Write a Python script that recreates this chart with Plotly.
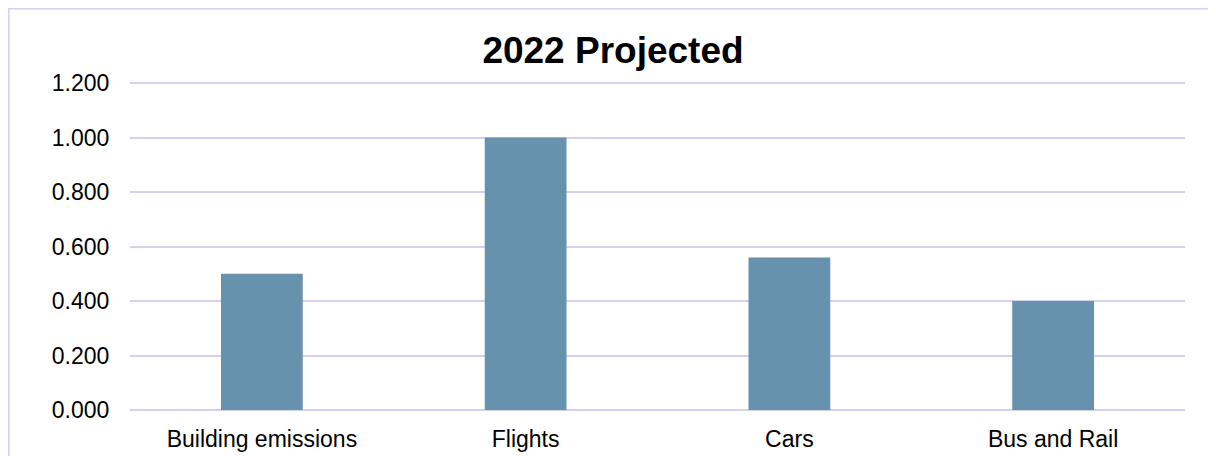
import plotly.graph_objects as go

categories = ["Building emissions", "Flights", "Cars", "Bus and Rail"]
values = [0.50, 1.00, 0.56, 0.40]
tick_vals = [0.0, 0.2, 0.4, 0.6, 0.8, 1.0, 1.2]
tick_text = ["0.000", "0.200", "0.400", "0.600", "0.800", "1.000", "1.200"]

# page has an 8px body margin, so the figure is 8px smaller than the window
W, H = 1208, 448
ml, mr, mt, mb = 122, 31, 74, 46
pw, ph = W - ml - mr, H - mt - mb

grid_col = "#D2D2F0"

fig = go.Figure(go.Bar(
    x=categories, y=values,
    marker=dict(color="#6692AD", line=dict(width=0)),
    hoverinfo="x+y",
))

bx0 = (0.75 - ml) / pw
by1 = 1 + (mt - 0.75) / ph

fig.update_layout(
    width=W, height=H,
    margin=dict(l=ml, r=mr, t=mt, b=mb, pad=0, autoexpand=False),
    paper_bgcolor="white", plot_bgcolor="white",
    bargap=0.69,
    showlegend=False,
    title=dict(text="<b>2022 Projected</b>", x=605 / W, xanchor="center",
               y=1 - 42 / H, yanchor="middle",
               font=dict(family="Liberation Sans, Arial", size=37, color="#000000")),
    font=dict(family="Liberation Sans, Arial", size=23, color="#000000"),
    xaxis=dict(showgrid=False, showline=False, zeroline=False, ticks="outside",
               ticklen=8, tickcolor="rgba(0,0,0,0)", automargin=False,
               tickfont=dict(size=23, color="#000000")),
    yaxis=dict(range=[0, 1.204], tickvals=tick_vals, ticktext=tick_text,
               showgrid=True, gridcolor=grid_col, gridwidth=2,
               zeroline=True, zerolinecolor=grid_col, zerolinewidth=2,
               showline=False, ticks="outside", ticklen=15, tickcolor="rgba(0,0,0,0)",
               automargin=False,
               tickfont=dict(size=23, color="#000000")),
    shapes=[dict(type="rect", xref="paper", yref="paper",
                 x0=bx0, x1=1.2, y0=-0.5, y1=by1,
                 line=dict(color=grid_col, width=1.5), fillcolor="rgba(0,0,0,0)",
                 layer="below")],
)

fig.write_html("out.html")
